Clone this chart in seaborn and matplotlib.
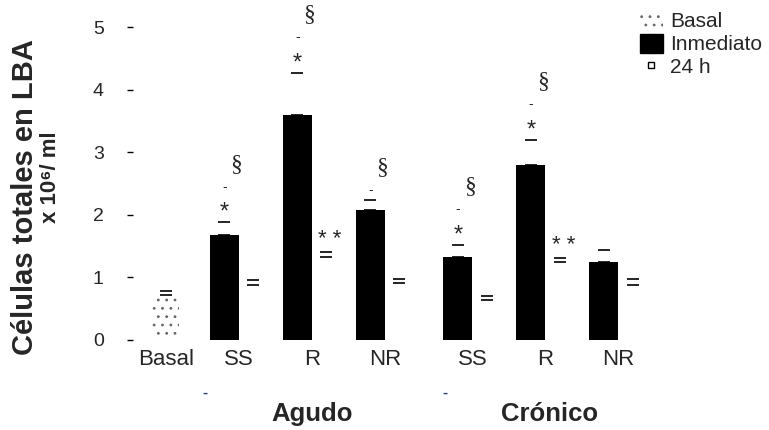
import numpy as np
import pandas as pd
import matplotlib
matplotlib.use("Agg")
import matplotlib.pyplot as plt
import matplotlib.transforms as mtransforms
from matplotlib.patches import Patch
from matplotlib.lines import Line2D
import seaborn as sns

# ---------------- data ----------------
groups = ["Agudo", "Agudo", "Agudo", "Crónico", "Crónico", "Crónico"]
categories = ["SS", "R", "NR", "SS", "R", "NR"]
inmediato = [1.67, 3.60, 2.08, 1.33, 2.80, 1.25]
inmediato_err = [0.21, 0.67, 0.15, 0.19, 0.40, 0.19]
h24 = [0.88, 1.33, 0.91, 0.64, 1.25, 0.88]
h24_err = [0.08, 0.08, 0.07, 0.06, 0.06, 0.09]
basal_value = [0.72]
basal_err = [0.06]
inm_marks = [["*", "-", "§"], ["*", "-", "§"], ["-", "§"],
             ["*", "-", "§"], ["*", "-", "§"], []]
h24_marks = ["", "* *", "", "", "* *", ""]
tick_labels = ["Basal", "SS", "R", "NR", "SS", "R", "NR"]
y_ticks = [0, 1, 2, 3, 4, 5]
series = ["Inmediato", "24 h"]

# ---------------- layout ----------------
xpos = [1.0, 2.0, 3.0, 4.2, 5.2, 6.2]
basal_pos = [0.0]
group_centers = {"Agudo": 2.0, "Crónico": 5.25}

sns.set_theme(style="white")
plt.rcParams["font.family"] = ["Liberation Sans", "DejaVu Sans"]
plt.rcParams["hatch.linewidth"] = 0.8

df = pd.DataFrame({
    "x": xpos * 2,
    "value": inmediato + h24,
    "serie": [series[0]] * len(xpos) + [series[1]] * len(xpos),
})

W, H = 769, 430
fig = plt.figure(figsize=(W / 100, H / 100), dpi=100)
xl, xr = -0.45, 7.3
yl, yt = 0.0, 5.2
ppu_x, ppu_y = 73.0, 62.6
ax = fig.add_axes([133 / W, (H - 340) / H, (xr - xl) * ppu_x / W, (yt - yl) * ppu_y / H])

sns.barplot(data=df, x="x", y="value", hue="serie", hue_order=series,
            palette={"Inmediato": "black", "24 h": "white"}, native_scale=True,
            width=0.8, errorbar=None, linewidth=0, legend=False, ax=ax)
sns.barplot(x=basal_pos, y=basal_value, native_scale=True, width=0.37,
            color="white", hatch="..", edgecolor="#666666", linewidth=0,
            errorbar=None, ax=ax)

xi = np.array(xpos) - 0.2
x24 = np.array(xpos) + 0.2
eb_kw = dict(fmt="none", ecolor="black", elinewidth=0, capsize=4, capthick=1.2)
ax.errorbar(xi, inmediato, yerr=[np.zeros(len(xi)), inmediato_err], **eb_kw)
ax.errorbar(x24, h24, yerr=[np.zeros(len(x24)), h24_err], **eb_kw)
ax.errorbar(basal_pos, basal_value, yerr=[[0], basal_err], **eb_kw)

half = {"*": 0.2, "-": 0.12, "§": 0.24}
for x, top, err, marks in zip(xi, inmediato, inmediato_err, inm_marks):
    cursor = top + err + 0.05
    for m in marks:
        c = cursor + half[m]
        cursor = c + half[m]
        if m == "§":
            ax.text(x + 0.16, c, m, ha="center", va="center", fontsize=17,
                    family="Liberation Serif", clip_on=False)
        elif m == "*":
            ax.text(x, c - 0.1, m, ha="center", va="center", fontsize=17, clip_on=False)
        else:
            ax.text(x, c, m, ha="center", va="center", fontsize=10, clip_on=False)
for x, top, err, m in zip(x24, h24, h24_err, h24_marks):
    if m:
        ax.text(x + 0.05, top + err + 0.2, m, ha="center", va="center", fontsize=16)

ax.set_xlim(xl, xr)
ax.set_ylim(yl, yt)
ax.set_xticks(basal_pos + xpos)
ax.set_xticklabels(tick_labels, fontsize=16)
ax.set_yticks(y_ticks)
ax.set_yticklabels([str(t) for t in y_ticks], fontsize=14)
ax.tick_params(axis="y", left=True, length=4, width=1, color="black", pad=17)
ax.tick_params(axis="x", bottom=False, pad=0.5)
ax.set_xlabel("")
ax.set_ylabel("")
for s in ax.spines.values():
    s.set_visible(False)

trans = mtransforms.blended_transform_factory(ax.transData, ax.transAxes)
for g, cx in group_centers.items():
    ax.text(cx, -0.226, g, transform=trans, ha="center", va="center",
            fontsize=18.5, fontweight="bold")
for dx in [0.53, 3.82]:
    ax.text(dx, -0.163, "-", transform=trans, ha="center", va="center",
            fontsize=11, fontweight="bold", color="#2b3990")

fig.text(25 / W, 1 - 197 / H, "Células totales en LBA", rotation=90,
         ha="center", va="center", fontsize=21, fontweight="bold")
fig.text(51 / W, 1 - 177 / H, "x 10⁶/ ml", rotation=90,
         ha="center", va="center", fontsize=16, fontweight="bold")

handles = [
    Patch(facecolor="white", edgecolor="#666666", hatch="..", linewidth=0),
    Patch(facecolor="black", edgecolor="black"),
    Line2D([], [], marker="s", ms=4, mfc="white", mec="black", ls="none"),
]
fig.legend(handles, ["Basal", "Inmediato", "24 h"], loc="upper left",
           bbox_to_anchor=(640 / W, 1 - 11 / H), frameon=False, fontsize=15,
           handlelength=1.1, handleheight=1.0, handletextpad=0.35,
           labelspacing=0.12, borderpad=0, borderaxespad=0)

fig.savefig("out.png", dpi=100)
